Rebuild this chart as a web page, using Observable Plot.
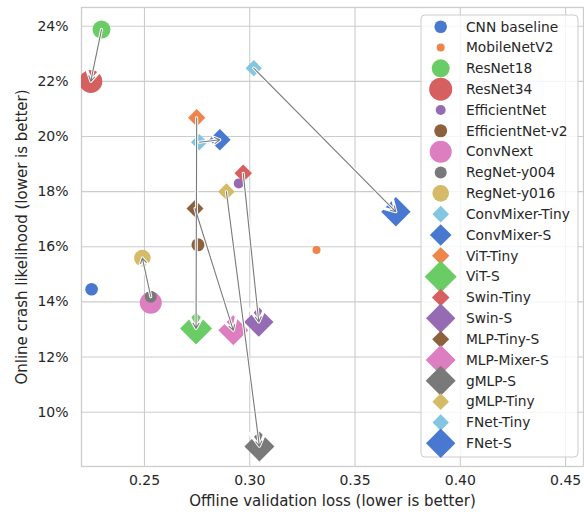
<!DOCTYPE html>
<html><head><meta charset="utf-8">
<script src="https://cdn.jsdelivr.net/npm/d3@7"></script>
<script src="https://cdn.jsdelivr.net/npm/@observablehq/plot@0.6"></script>
<style>
body{margin:0;background:#fff;}
svg{font-family:"DejaVu Sans",sans-serif;}
</style>
</head><body><div id="chart"></div>
<script>
// ---- data ----
const names = ["CNN baseline","MobileNetV2","ResNet18","ResNet34","EfficientNet","EfficientNet-v2","ConvNext","RegNet-y004","RegNet-y016","ConvMixer-Tiny","ConvMixer-S","ViT-Tiny","ViT-S","Swin-Tiny","Swin-S","MLP-Tiny-S","MLP-Mixer-S","gMLP-S","gMLP-Tiny","FNet-Tiny","FNet-S"];
const offlineLoss = [0.2249,0.3317,0.2296,0.2245,0.2948,0.2754,0.2530,0.2530,0.2490,0.2760,0.2858,0.2748,0.2745,0.2969,0.3043,0.2740,0.2922,0.3046,0.2889,0.3019,0.3694];
const crashPct = [14.46,15.88,23.88,22.00,18.30,16.07,13.97,14.19,15.59,19.79,19.88,20.68,13.04,18.67,13.27,17.39,12.97,8.76,18.00,22.48,17.27];
const arrowFrom = ["ResNet18","ConvMixer-Tiny","FNet-Tiny","ViT-Tiny","MLP-Tiny-S","gMLP-Tiny","Swin-Tiny","RegNet-y004"];
const arrowTo   = ["ResNet34","ConvMixer-S","FNet-S","ViT-S","MLP-Mixer-S","gMLP-S","Swin-S","RegNet-y016"];
const xTicks = [0.25,0.30,0.35,0.40,0.45];
const yTicks = [10,12,14,16,18,20,22,24];

// ---- styles ----
const markerColor = ["#4878d0","#ee854a","#6acc64","#d65f5f","#956cb4","#8c613c","#dc7ec0","#797979","#d5bb67","#82c6e2","#4878d0","#ee854a","#6acc64","#d65f5f","#956cb4","#8c613c","#dc7ec0","#797979","#d5bb67","#82c6e2","#4878d0"];
const markerShape = ["circle","circle","circle","circle","circle","circle","circle","circle","circle","diamond","diamond","diamond","diamond","diamond","diamond","diamond","diamond","diamond","diamond","diamond","diamond"];
const markerSize = [6.3,4,9,11.5,5,6.5,11,6,8.3,8.3,10.8,8.7,16,8.8,14.7,8.5,15,15,8.3,8.2,14.7];

const rows = names.map((name,i)=>({name, x: offlineLoss[i], y: crashPct[i], color: markerColor[i], shape: markerShape[i], size: markerSize[i]}));
const circles = rows.filter(d=>d.shape==="circle");
const diamonds = rows.filter(d=>d.shape==="diamond");
const byName = new Map(rows.map(d=>[d.name,d]));
const arrows = arrowFrom.map((f,i)=>({from: byName.get(f), to: byName.get(arrowTo[i])}));
const ink = "#262626";
const arrowOpts = {x1: d=>d.from.x, y1: d=>d.from.y, x2: d=>d.to.x, y2: d=>d.to.y, headLength: 8};

const plot = Plot.plot({
  width: 584, height: 514,
  marginLeft: 81, marginRight: 1, marginTop: 7, marginBottom: 48,
  style: {fontFamily: "DejaVu Sans, sans-serif", fontSize: "14px", color: ink, background: "white"},
  x: {domain: [0.2201, 0.4585]},
  y: {domain: [8.03, 24.68]},
  r: {type: "identity"},
  color: {type: "identity"},
  marks: [
    Plot.gridX(xTicks, {stroke: "#cccccc", strokeOpacity: 1, strokeWidth: 1.1}),
    Plot.gridY(yTicks, {stroke: "#cccccc", strokeOpacity: 1, strokeWidth: 1.1}),
    Plot.frame({stroke: "#cccccc", strokeWidth: 1.3}),
    Plot.axisX(xTicks, {tickSize: 0, tickPadding: 9, tickFormat: d3.format(".2f"), label: null, fontSize: 14}),
    Plot.axisY(yTicks, {tickSize: 0, tickPadding: 13, tickFormat: d => d + "%", label: null, fontSize: 14}),
    Plot.dot(circles, {x: "x", y: "y", r: "size", fill: "color", symbol: "circle", clip: true}),
    Plot.dot(diamonds, {x: "x", y: "y", r: d => d.size / 1.11, fill: "color", symbol: "diamond2", clip: true}),
    Plot.arrow(arrows, {...arrowOpts, stroke: "white", strokeWidth: 3}),
    Plot.arrow(arrows, {...arrowOpts, stroke: "#7a7a7a", strokeWidth: 1.1}),
    Plot.text(["Offline validation loss (lower is better)"], {text: d => d, frameAnchor: "bottom", dy: 35, lineAnchor: "middle", textAnchor: "middle", fontSize: 15, fill: ink}),
    Plot.text(["Online crash likelihood (lower is better)"], {text: d => d, frameAnchor: "left", dx: -59, rotate: -90, lineAnchor: "middle", textAnchor: "middle", fontSize: 15, fill: ink})
  ]
});
document.getElementById("chart").append(plot);

// ---- legend ----
const svg = d3.select(plot);
const lg = svg.append("g").attr("text-anchor", "start");
lg.append("rect").attr("x", 421).attr("y", 15).attr("width", 157).attr("height", 442).attr("rx", 4)
  .attr("fill", "white").attr("fill-opacity", 0.8).attr("stroke", "#cccccc").attr("stroke-width", 1);
rows.forEach((d, i) => {
  const cy = 26.7 + i * 20.83;
  const sym = d.shape === "circle"
    ? d3.symbol(d3.symbolCircle, Math.PI * d.size * d.size)
    : d3.symbol(d3.symbolDiamond2, Math.pow(d.size / 0.62625, 2));
  lg.append("path").attr("d", sym()).attr("transform", `translate(440.7,${cy})`).attr("fill", d.color);
  lg.append("text").attr("x", 466).attr("y", cy).attr("dy", "0.35em").attr("text-anchor", "start")
    .attr("fill", ink).attr("font-size", 13.75).text(d.name);
});
</script>
</body></html>
